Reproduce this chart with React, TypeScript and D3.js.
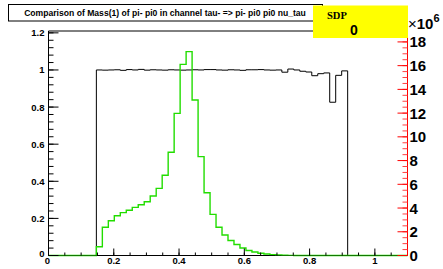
import React from "react";
import * as d3 from "d3";

// histogram binning
const nBins = 60;
const xMin = 0;
const xMax = 1.1;

// black histogram (left axis), first filled bin = 8
const blackFirstBin = 8;
const blackValues = [
  1.0, 0.999, 1.0, 1.001, 0.998, 1.002, 1.0, 1.003, 0.999, 1.001,
  1.0, 0.999, 1.001, 1.0, 0.999, 1.0, 1.001, 1.0, 1.002, 1.002,
  1.0, 0.999, 1.001, 1.0, 0.998, 1.001, 1.001, 1.002, 1.0, 0.999,
  1.0, 0.988, 1.005, 1.0, 0.993, 0.989, 0.969, 0.98, 0.984, 0.826,
  0.971, 0.995,
];

// green histogram (right axis, x10^6), first filled bin = 8
const greenFirstBin = 8;
const greenValues = [
  0.74, 2.38, 2.93, 3.35, 3.61, 3.81, 4.06, 4.28, 4.53, 5.01,
  5.66, 6.76, 8.7, 11.98, 16.11, 17.18, 13.1, 8.33, 5.29, 3.47,
  2.38, 1.73, 1.26, 0.93, 0.63, 0.42, 0.29, 0.19, 0.13, 0.07,
  0.04, 0.02, 0.01,
];

const leftTicks = [0, 0.2, 0.4, 0.6, 0.8, 1, 1.2];
const bottomTicks = [0, 0.2, 0.4, 0.6, 0.8, 1];
const rightTicks = [0, 2, 4, 6, 8, 10, 12, 14, 16, 18];

const title = "Comparison of Mass(1) of pi- pi0 in channel tau- => pi- pi0 pi0 nu_tau";
const statsName = "SDP";
const statsValue = "0";

const sans = "'Liberation Sans', Arial, Helvetica, sans-serif";
const serif = "'Liberation Serif', 'Times New Roman', serif";

function fullBins(first: number, vals: number[]) {
  return d3.range(nBins).map((i) =>
    i >= first && i < first + vals.length ? vals[i - first] : 0
  );
}

function stepPath(vals: number[], x: d3.ScaleLinear<number, number>, y: d3.ScaleLinear<number, number>) {
  const edges = d3.range(nBins + 1).map((i) => xMin + ((xMax - xMin) * i) / nBins);
  const pts: [number, number][] = [];
  vals.forEach((v, i) => {
    pts.push([x(edges[i]), y(v)]);
    pts.push([x(edges[i + 1]), y(v)]);
  });
  return d3.line()(pts) || "";
}

const fmt = (v: number) => d3.format("~g")(v);

export default function App() {
  const left = 48.5;
  const right = 407.5;
  const top = 31;
  const bottom = 255.5;

  const x = d3.scaleLinear().domain([xMin, xMax]).range([left, right]);
  const yL = d3.scaleLinear().domain([0, 1.21]).range([bottom, top]);
  const yR = d3.scaleLinear().domain([0, 18.92]).range([bottom, top]);

  const black = fullBins(blackFirstBin, blackValues);
  const green = fullBins(greenFirstBin, greenValues);

  const leftMinor = d3.range(0, 1.2001, 0.04);
  const bottomMinor = d3.range(0, 1.1001, 0.05);
  const rightMinor = d3.range(0, 18.9, 0.5);

  return (
    <svg
      width={443}
      height={269}
      style={{ position: "absolute", left: 0, top: 0, background: "#fff" }}
    >
      {/* frame */}
      <line x1={left} x2={right} y1={top} y2={top} stroke="#000" strokeWidth={1} />
      <line x1={left} x2={left} y1={top} y2={bottom} stroke="#000" strokeWidth={1} />
      <line x1={left} x2={right} y1={bottom} y2={bottom} stroke="#000" strokeWidth={1} />

      {/* histograms */}
      <path d={stepPath(black, x, yL)} fill="none" stroke="#000" strokeWidth={1} />
      <path d={stepPath(green, x, yR)} fill="none" stroke="#22dd00" strokeWidth={1.4} />
      <line x1={left} x2={right} y1={bottom} y2={bottom} stroke="#000" strokeOpacity={0.45} strokeWidth={1} />

      {/* left axis */}
      {leftMinor.map((t, i) => (
        <line key={"lm" + i} x1={left} x2={left + 5} y1={yL(t)} y2={yL(t)} stroke="#000" />
      ))}
      {leftTicks.map((t) => (
        <g key={"l" + t}>
          <line x1={left} x2={left + 10} y1={yL(t)} y2={yL(t)} stroke="#000" />
          <text
            x={left - 4}
            y={yL(t) - (t === 0 ? 2 : 0)}
            textAnchor="end"
            dominantBaseline="central"
            fontFamily={sans}
            fontWeight="bold"
            fontSize={9.5}
          >
            {fmt(t)}
          </text>
        </g>
      ))}

      {/* bottom axis */}
      {bottomMinor.map((t, i) => (
        <line key={"bm" + i} x1={x(t)} x2={x(t)} y1={bottom} y2={bottom - 3} stroke="#000" />
      ))}
      {bottomTicks.map((t) => (
        <g key={"b" + t}>
          <line x1={x(t)} x2={x(t)} y1={bottom} y2={bottom - 7} stroke="#000" />
          <text
            x={x(t) - (t === 0 ? 1 : 0)}
            y={264}
            textAnchor="middle"
            fontFamily={sans}
            fontWeight="bold"
            fontSize={9.5}
          >
            {fmt(t)}
          </text>
        </g>
      ))}

      {/* right axis */}
      <line x1={right} x2={right} y1={top} y2={bottom} stroke="#ff0000" strokeWidth={1} />
      {rightMinor.map((t, i) => (
        <line key={"rm" + i} x1={right} x2={right - 5} y1={yR(t)} y2={yR(t)} stroke="#ff4040" />
      ))}
      {rightTicks.map((t) => (
        <g key={"r" + t}>
          <line x1={right} x2={right - 10} y1={yR(t)} y2={yR(t)} stroke="#ff0000" />
          <text
            x={right + 2}
            y={yR(t)}
            textAnchor="start"
            dominantBaseline="central"
            fontFamily={sans}
            fontWeight="bold"
            fontSize={15}
          >
            {fmt(t)}
          </text>
        </g>
      ))}

      {/* title */}
      <rect x={8.5} y={4.5} width={314} height={16.5} fill="#fff" stroke="#000" strokeWidth={1} />
      <text x={165} y={16} textAnchor="middle" fontFamily={sans} fontWeight="bold" fontSize={8.6}>
        {title}
      </text>

      {/* stats box */}
      <rect x={313} y={5.5} width={95} height={32.5} fill="#ffff00" />
      <text x={327} y={18.5} fontFamily={serif} fontWeight="bold" fontSize={10.5}>
        {statsName}
      </text>
      <text x={354} y={35} textAnchor="middle" fontFamily={sans} fontWeight="bold" fontSize={14}>
        {statsValue}
      </text>

      {/* exponent */}
      <text x={408} y={28.5} fontFamily={sans} fontWeight="bold" fontSize={15}>
        <tspan fontWeight="normal">×</tspan>10
        <tspan dy={-7} fontSize={11}>6</tspan>
      </text>
    </svg>
  );
}
